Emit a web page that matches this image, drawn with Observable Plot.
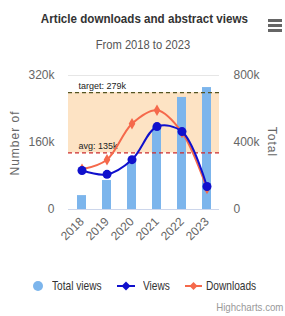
<!DOCTYPE html>
<html><head><meta charset="utf-8">
<script src="https://cdn.jsdelivr.net/npm/d3@7"></script>
<script src="https://cdn.jsdelivr.net/npm/@observablehq/plot@0.6"></script>
<style>
body{margin:0;background:#fff;}
#wrap{position:relative;width:285px;height:316px;overflow:hidden;font-family:"Liberation Sans",Arial,sans-serif;}
.abs{position:absolute;white-space:nowrap;}
.narrow{display:inline-block;transform:scaleX(0.86);}
#title{left:0;width:288px;top:11px;text-align:center;font-weight:bold;font-size:13.5px;color:#333;}
#sub{left:0;width:286px;top:37px;text-align:center;font-size:13px;color:#555;}
#menu{left:268px;top:19px;width:14px;}
#menu div{height:2.5px;background:#666;margin-bottom:2.5px;}
#chart{left:0;top:58px;}
.axt{font-size:12px;color:#666;letter-spacing:1px;}
#yl{left:15px;top:143px;transform:translate(-50%,-50%) rotate(-90deg);}
#yr{left:272px;top:142px;transform:translate(-50%,-50%) rotate(90deg);}
#legend{left:0;top:278px;width:285px;font-size:13px;color:#333;}
#legend span{transform:scaleX(0.78);transform-origin:left center;}
#credit{right:2px;top:301px;font-size:11px;color:#999;transform:scaleX(0.88);transform-origin:right center;}
</style></head>
<body><div id="wrap">
<div id="title" class="abs"><span class="narrow">Article downloads and abstract views</span></div>
<div id="sub" class="abs"><span class="narrow">From 2018 to 2023</span></div>
<div id="menu" class="abs"><div></div><div></div><div></div></div>
<div id="chart" class="abs"></div>
<div id="yl" class="abs axt">Number of</div>
<div id="yr" class="abs axt">Total</div>
<div id="legend" class="abs"></div>
<div id="credit" class="abs">Highcharts.com</div>
</div>
<script>
const years = ["2018","2019","2020","2021","2022","2023"];
const totalViews = [83000, 173000, 280000, 490000, 669000, 728000];
const views = [93000, 84000, 119000, 198000, 186000, 55000];
const downloads = [96000, 119000, 205000, 237000, 184000, 50000];
const target = 279000;
const avg = 135000;
const leftTicks = [0, 160000, 320000];
const leftMax = 320000;
const rightMax = 800000;

const colBar = "#7cb5ec", colViews = "#1010cc", colDl = "#f5694b";
const data = years.map((y, i) => ({year: y, total: totalViews[i], views: views[i], downloads: downloads[i]}));
const ratio = leftMax / rightMax;
const fmt = v => v === 0 ? "0" : Math.round(v / 1000) + "k";

const chart = Plot.plot({
  width: 285, height: 200,
  marginTop: 17, marginBottom: 49, marginLeft: 68, marginRight: 66,
  style: {fontFamily: "'Liberation Sans', Arial, sans-serif", fontSize: "12px", color: "#666", background: "transparent", overflow: "visible"},
  x: {type: "band", domain: years, paddingInner: 0.64, paddingOuter: 0.32},
  y: {domain: [0, leftMax]},
  marks: [
    Plot.rect([{lo: avg, hi: target}], {y1: "lo", y2: "hi", fill: "#fde3c4"}),
    Plot.ruleY([leftMax], {stroke: "#e6e6e6"}),
    Plot.barY(data, {x: "year", y: d => d.total * ratio, fill: colBar}),
    Plot.ruleY([target], {stroke: "#555522", strokeDasharray: "4,3", strokeWidth: 1.2}),
    Plot.ruleY([avg], {stroke: "#cc2a2a", strokeDasharray: "4,3", strokeWidth: 1.2}),
    Plot.text([target], {y: d => d, text: d => "target: " + Math.round(d/1000) + "k", frameAnchor: "left", textAnchor: "start", dx: 10, dy: -7, fill: "#222", fontSize: 9}),
    Plot.text([avg], {y: d => d, text: d => "avg: " + Math.round(d/1000) + "k", frameAnchor: "left", textAnchor: "start", dx: 10, dy: -7, fill: "#222", fontSize: 9}),
    Plot.ruleY([0], {stroke: "#ccd6eb"}),
    Plot.line(data, {x: "year", y: "downloads", curve: "catmull-rom", stroke: colDl, strokeWidth: 2}),
    Plot.dot(data, {x: "year", y: "downloads", symbol: "diamond", r: 3.5, fill: colDl}),
    Plot.line(data, {x: "year", y: "views", curve: "catmull-rom", stroke: colViews, strokeWidth: 2}),
    Plot.dot(data, {x: "year", y: "views", r: 4.5, fill: colViews}),
    Plot.axisY(leftTicks, {anchor: "left", tickSize: 0, tickPadding: 14, tickFormat: fmt, label: null, fill: "#666"}),
    Plot.axisY(leftTicks, {anchor: "right", tickSize: 0, tickPadding: 14, tickFormat: d => fmt(d / ratio), label: null, fill: "#666"}),
    Plot.axisX(years, {tickSize: 0, tickRotate: -45, tickPadding: 10, label: null, fill: "#666"})
  ]
});
document.getElementById("chart").appendChild(chart);

const leg = document.getElementById("legend");
leg.innerHTML = `
<svg width="285" height="20" style="position:absolute;left:0;top:0">
  <circle cx="38" cy="8" r="5" fill="${colBar}"/>
  <line x1="117" x2="135" y1="8" y2="8" stroke="${colViews}" stroke-width="2"/>
  <path d="M126,3.5 L130.5,8 L126,12.5 L121.5,8Z" fill="${colViews}"/>
  <line x1="185" x2="202" y1="8" y2="8" stroke="${colDl}" stroke-width="2"/>
  <path d="M193.5,4 L197.5,8 L193.5,12 L189.5,8Z" fill="${colDl}"/>
</svg>
<span class="abs" style="left:52px;top:0">Total views</span>
<span class="abs" style="left:143px;top:0">Views</span>
<span class="abs" style="left:206px;top:0">Downloads</span>`;
</script>
</body></html>
